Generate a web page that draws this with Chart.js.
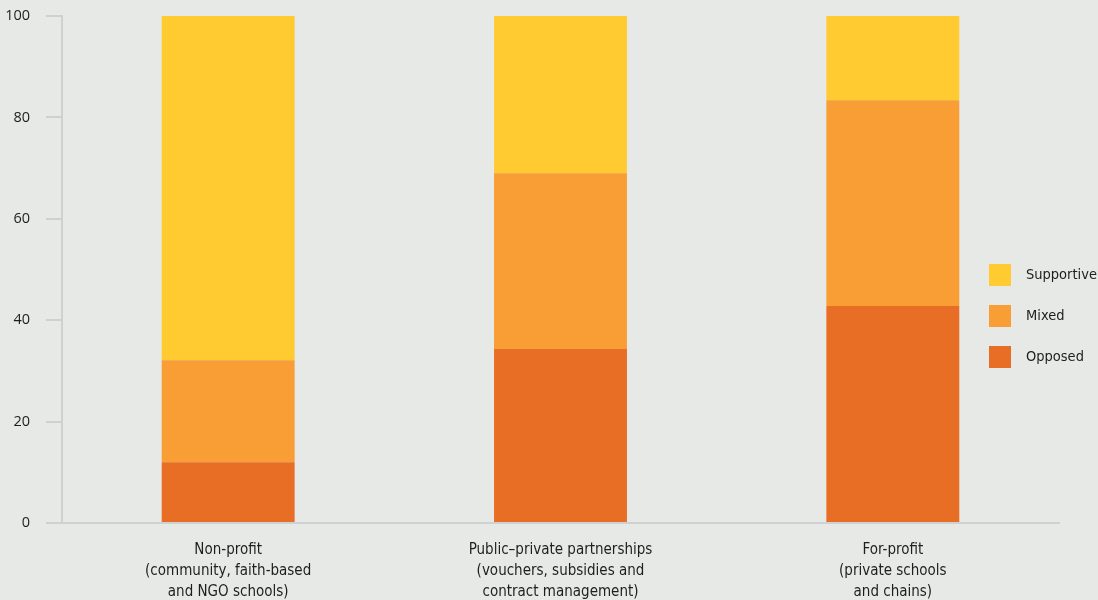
<!DOCTYPE html>
<html>
<head>
<meta charset="utf-8">
<script src="https://cdn.jsdelivr.net/npm/chart.js@4/dist/chart.umd.min.js"></script>
<style>
  html, body { margin: 0; padding: 0; background: #e7e9e6; }
  #wrap { width: 1098px; height: 600px; }
</style>
</head>
<body>
<div id="wrap"><canvas id="myChart" width="1098" height="600"></canvas></div>
<script>
var categories = [
    ['Non-profit', '(community, faith-based', 'and NGO schools)'],
    ['Public\u2013private partnerships', '(vouchers, subsidies and', 'contract management)'],
    ['For-profit', '(private schools', 'and chains)']
];
var opposed = [12.0, 34.3, 42.8];
var mixed = [20.1, 34.7, 40.6];
var supportive = [67.9, 31.0, 16.6];
var yTicks = [0, 20, 40, 60, 80, 100];

var axisColor = '#cfd0d2';
var textColor = '#1e1e1e';
var narrowFont = '"Liberation Sans Narrow", "DejaVu Sans Condensed", sans-serif';

// legend sits inside the plot, on the right, drawn by hand
var sideLegend = {
    id: 'sideLegend',
    afterDraw: function (chart) {
        var c = chart.ctx;
        var ds = chart.data.datasets.slice().reverse();
        c.save();
        c.font = '14.5px ' + narrowFont;
        c.textBaseline = 'middle';
        ds.forEach(function (d, i) {
            var y = 275 + i * 41;
            c.fillStyle = d.backgroundColor;
            c.fillRect(989, y - 11, 22, 22);
            c.fillStyle = textColor;
            c.fillText(d.label, 1026, y);
        });
        c.restore();
    }
};

var ctx = document.getElementById('myChart').getContext('2d');
var myChart = new Chart(ctx, {
    type: 'bar',
    data: {
        labels: categories,
        datasets: [
            { label: 'Opposed', data: opposed, backgroundColor: '#e86e25' },
            { label: 'Mixed', data: mixed, backgroundColor: '#f99d35' },
            { label: 'Supportive', data: supportive, backgroundColor: '#ffcb31' }
        ]
    },
    options: {
        responsive: false,
        animation: false,
        layout: { padding: { top: 16, right: 39, left: 0, bottom: 0 } },
        datasets: { bar: { barPercentage: 0.4, categoryPercentage: 1.0, borderWidth: 0 } },
        plugins: {
            legend: { display: false },
            tooltip: { enabled: false }
        },
        scales: {
            x: {
                stacked: true,
                grid: { display: false },
                border: { color: axisColor, width: 2 },
                ticks: {
                    color: textColor,
                    padding: 9,
                    maxRotation: 0,
                    font: { family: narrowFont, size: 15, lineHeight: 1.4 }
                },
                afterFit: function (s) { s.height = 77; }
            },
            y: {
                stacked: true,
                min: 0,
                max: 100,
                afterBuildTicks: function (s) { s.ticks = yTicks.map(function (v) { return { value: v }; }); },
                grid: { drawOnChartArea: false, tickLength: 16, color: axisColor, lineWidth: 2 },
                border: { color: axisColor, width: 2 },
                ticks: {
                    color: textColor,
                    padding: 16,
                    font: { family: '"Open Sans", sans-serif', size: 14.5 }
                },
                afterFit: function (s) { s.width = 62; s.paddingTop = 0; s.paddingBottom = 0; }
            }
        }
    },
    plugins: [sideLegend]
});
</script>
</body>
</html>
